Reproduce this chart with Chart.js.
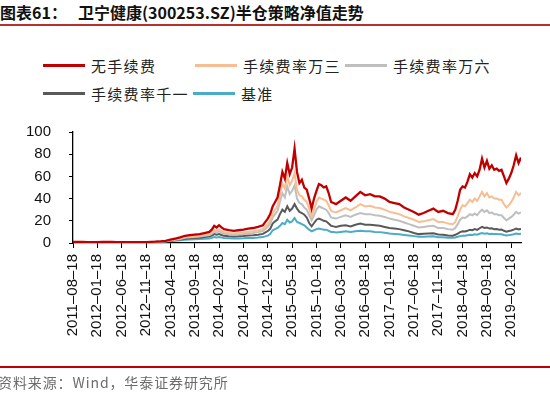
<!DOCTYPE html>
<html><head><meta charset="utf-8">
<script src="https://cdn.jsdelivr.net/npm/chart.js@4"></script>
<style>
html,body{margin:0;padding:0;width:550px;height:399px;overflow:hidden;background:#fff;position:relative;font-family:"Noto Sans CJK SC",sans-serif;}
canvas{position:absolute;left:0;top:0;}
.title{position:absolute;top:2px;font-size:16px;font-weight:bold;color:#111;white-space:nowrap;line-height:20px;}
#rule1{position:absolute;left:0;top:24px;width:550px;height:2px;background:#B5322E;}
#rule2{position:absolute;left:0;top:366px;width:550px;height:2px;background:#C00000;}
#source{position:absolute;left:-2px;top:372px;font-size:14px;color:#6b6b6b;white-space:nowrap;line-height:20px;letter-spacing:0.9px;}
.lg{position:absolute;height:20px;display:flex;align-items:center;white-space:nowrap;font-size:15px;color:#222;letter-spacing:1.3px;}
.lg span.ln{display:inline-block;width:42px;height:3px;margin-right:6px;}
</style></head>
<body>
<div class="title" style="left:0">图表61：</div>
<div class="title" style="left:78px">卫宁健康(300253.SZ)半仓策略净值走势</div>
<div id="rule1"></div>
<div id="legend"></div>
<canvas id="c" width="550" height="399"></canvas>
<div id="rule2"></div>
<div id="source">资料来源：Wind，华泰证券研究所</div>
<script>
const seriesNames = ['无手续费','手续费率万三','手续费率万六','手续费率千一','基准'];
const seriesColors = ['#C00000','#F7BE94','#BFBFBF','#595959','#4BACC6'];
const tickLabels = ['2011–08–18','2012–01–18','2012–06–18','2012–11–18','2013–04–18','2013–09–18','2014–02–18','2014–07–18','2014–12–18','2015–05–18','2015–10–18','2016–03–18','2016–08–18','2017–01–18','2017–06–18','2017–11–18','2018–04–18','2018–09–18','2019–02–18'];

// x position in months since 2011-08-18
const months = [0,1,2,3,4,5,6,7,8,9,10,11,12,13,14,15,16,17,18,19,
20,21,22,23,24,25,26,27,28,28.5,29,29.5,30,30.5,31,32,33,34,35,36,37,38,39,39.5,40,40.5,41,41.5,42,42.5,43,43.5,44,44.5,45,45.5,46,46.5,47,47.5,48,48.5,49,49.5,50,50.5,51,51.5,52,52.5,53,53.5,54,
55,56,57,58,59,60,61,62,63,64,65,66,67,68,69,70,71,72,73,74,75,76,77,78,78.5,79,79.5,80,80.5,81,81.5,82,82.5,83,83.5,84,84.5,85,85.5,86,86.5,87,87.5,88,88.5,89,89.5,90,90.5,91,91.5,92];

const noFee = [1,0.95,0.9,0.85,0.8,0.85,0.9,0.95,0.9,0.85,0.8,0.75,0.8,0.85,0.8,0.85,1.0,1.2,1.5,2.0,
3,4,5,6.5,7,7.5,8,9,10,12,15.5,14,16,14,12.5,11.5,11,11.5,12,13,13.5,14.5,16,19,22,26,33,37,41,52,64,58,72,62,68,85,64,54,57,50,48,40,31,40,47,53,52,50,51,45,37,36,35,
38,41,38,42,46,43,44,42,42,40,37,36,35,32,30,28,25.5,27,29,31,28,29,27,26,30,38,48,51,50,55,62,59,63,60,66,76,68,74,67,70,66,67,65,66,60,54,58,63,70,79,72,77];

const fee3 = [1,0.95,0.9,0.85,0.8,0.85,0.9,0.95,0.9,0.85,0.8,0.75,0.8,0.85,0.8,0.85,1.0,1.15,1.4,1.8,
2.6,3.4,4.2,5.4,5.8,6.2,6.6,7.4,8.2,9.6,12,11,12.2,10.8,9.7,9,8.6,9,9.4,10.2,10.5,11.3,12.5,14.8,17,20.3,26.5,30,33.5,43,54,49,60,52,56,63,48,43,42,39,37,31,24,30,37,41,40,39,38,34,29,28,27.5,
29.5,31.5,29.5,32,35,33,33.5,32,31.5,30,28,27,26,24,22.5,21,19,19.5,20.5,21.5,19,19,17.5,17,19,24,30,34,33,36,39,37,40,38,42,46,42,45,41,42,40,40,39,39,35,32,34,37,41,46,43,45];

const fee6 = [1,0.95,0.9,0.85,0.8,0.85,0.9,0.95,0.9,0.85,0.8,0.75,0.8,0.85,0.8,0.85,0.95,1.1,1.3,1.65,
2.3,3,3.7,4.7,5.1,5.4,5.8,6.5,7.1,8.4,10.4,9.6,10.6,9.4,8.4,7.8,7.5,7.8,8.1,8.8,9.1,9.8,10.8,12.7,14.6,17.4,23,26,29,37,45,41,51,44,47,52,40,36,35,32,30,25,20.5,25,30,33,32,31,30,27,23,22.5,22,
23.5,25,23.5,25.5,27,26,26,25,24.5,23.5,22,21,20,18.5,17,15.5,14,14.5,15,15.5,13.5,13.5,12.5,12,13.5,17,21,23,22.5,24,26,25,26.5,25,28,30,28,29.5,27,27.5,26,26,25,25,22.5,20.5,22,23.5,25.5,28,26.5,27.5];

const fee10 = [1,0.95,0.9,0.85,0.8,0.85,0.9,0.95,0.9,0.85,0.8,0.75,0.8,0.85,0.8,0.85,0.95,1.05,1.25,1.5,
2,2.6,3.1,3.9,4.2,4.5,4.8,5.3,5.8,6.7,8,7.5,8.1,7.2,6.5,6.1,5.8,6,6.3,6.8,7,7.5,8.2,9.5,10.8,12.8,17.5,19.5,21,26,30,28,33,29,31,35,31,28,27,25.5,23,18,15,18,21,22,21,20,19.5,17.5,15.5,15,14.5,
15.5,16,15,16.5,17.5,16.5,16.5,16,15.5,14.5,13.5,13,12.5,11.5,10.5,9,8,8.3,8.6,8.8,7.6,7.5,6.8,6.6,7.4,8.5,9.8,10.5,10.3,11,12,11.5,12.5,11.8,13.3,14.5,13.5,14,13,13.2,12.5,12.6,12,12.2,11,10.2,10.8,11.3,12,13,12.3,12.7];

const benchmark = [1,0.95,0.9,0.85,0.8,0.85,0.9,0.95,0.9,0.85,0.8,0.75,0.8,0.85,0.8,0.85,0.95,1.05,1.2,1.4,
1.7,2.1,2.5,3,3.2,3.4,3.6,3.9,4.1,4.6,5.3,5,5.4,4.9,4.5,4.2,4,4.1,4.2,4.5,4.6,4.9,5.3,6,6.6,8,11.5,12.5,13.5,15.5,18,17,21,18.5,19.5,22.5,19,18,17,16,14,12,10.5,11.5,12.5,13,12.5,12,12,11,10,10,9.5,
10,10.5,10,10.5,11,10.5,10.5,10,9.8,9.2,8.5,8.2,7.8,7.3,6.8,6.2,5.6,5.7,5.9,6,5.2,5.1,4.8,4.7,5,5.6,6.2,6.6,6.5,7,7.5,7.2,7.8,7.4,8.3,9,8.4,8.8,8.2,8.3,8,8,7.8,7.8,7.2,6.8,7.1,7.4,7.9,8.5,8.2,8.4];

const allSeries = [noFee, fee3, fee6, fee10, benchmark];

const legendPos = [[43,55],[195,55],[345,55],[43,83],[193,83]];
const lg = document.getElementById('legend');
seriesNames.forEach((n,i)=>{
  const d = document.createElement('div');
  d.className='lg';
  d.style.left = legendPos[i][0]+'px';
  d.style.top = legendPos[i][1]+'px';
  const s = document.createElement('span'); s.className='ln'; s.style.background=seriesColors[i];
  d.appendChild(s);
  d.appendChild(document.createTextNode(n));
  lg.appendChild(d);
});

const datasets = allSeries.map((arr,i)=>({
  label: seriesNames[i],
  data: arr.map((v,k)=>({x: months[k], y: v})),
  borderColor: seriesColors[i],
  backgroundColor: seriesColors[i],
  borderWidth: i === 0 ? 2.3 : 2,
  pointRadius: 0,
  tension: 0,
  fill: false
}));

new Chart(document.getElementById('c'), {
  type: 'line',
  data: { datasets },
  options: {
    responsive: false,
    devicePixelRatio: 1,
    animation: false,
    layout: { padding: { left: 0, top: 132, right: 29, bottom: 56 } },
    plugins: { legend: { display: false }, tooltip: { enabled: false } },
    scales: {
      x: {
        type: 'linear',
        min: 0, max: 92,
        grid: { drawOnChartArea: false, drawTicks: true, tickLength: 5, color: '#000' },
        border: { display: true, color: '#000', width: 1.3 },
        afterBuildTicks: (s) => { s.ticks = s.ticks.filter(t => t.value % 5 === 0 && t.value <= 90); },
        afterFit: (s) => { s.height = 100; s.paddingLeft = 0; s.paddingRight = 0; },
        ticks: {
          stepSize: 5, includeBounds: false, autoSkip: false,
          minRotation: 90, maxRotation: 90, padding: 6,
          color: '#111',
          font: { family: '"Liberation Sans", Arial, sans-serif', size: 15 },
          callback: (v) => tickLabels[Math.round(v/5)]
        }
      },
      y: {
        min: 0, max: 100,
        grid: { drawOnChartArea: false, drawTicks: true, tickLength: 4, color: '#000' },
        border: { display: true, color: '#000', width: 1.3 },
        afterFit: (s) => { s.width = 73; },
        ticks: {
          stepSize: 20, padding: 18, color: '#111',
          font: { family: '"Liberation Sans", Arial, sans-serif', size: 15 }
        }
      }
    }
  }
});
</script>
</body></html>
